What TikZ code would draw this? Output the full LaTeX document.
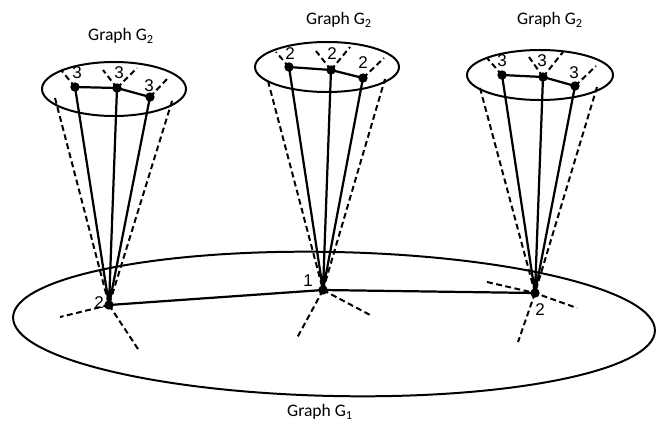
\documentclass[tikz,border=0pt]{standalone}
\usepackage{fontspec}
\setmainfont{Carlito}
\newfontfamily\numfont{Liberation Sans}
\begin{document}
\begin{tikzpicture}[x=0.03cm,y=-0.03cm,
  dot/.style={circle,fill=black,inner sep=0pt,minimum size=8pt},
  edge/.style={line width=1.9pt},
  hid/.style={line width=1.7pt,dash pattern=on 5pt off 3pt},
  ring/.style={line width=1.7pt},
  num/.style={font=\numfont\fontsize{14.5}{14.5}\selectfont,inner sep=0pt},
  title/.style={font=\fontsize{15}{15}\selectfont,inner sep=0pt}]
\useasboundingbox (0,0) rectangle (657,422);
% big ellipse G1
\draw[ring,rotate around={-1.2:(334,324)}] (334,324) ellipse [x radius=321, y radius=72];
% small ellipses
\draw[ring] (114,89) ellipse [x radius=72, y radius=27];
\draw[ring] (327,67) ellipse [x radius=72, y radius=25];
\draw[ring] (540,75) ellipse [x radius=73, y radius=25];
% bottom nodes
\node[dot] (B1) at (109,305) {};
\node[dot] (B2) at (323,290) {};
\node[dot] (B3) at (535,293) {};
% top nodes
\node[dot] (a1) at (75,87) {};
\node[dot] (a2) at (117,88) {};
\node[dot] (a3) at (150,97) {};
\node[dot] (b1) at (289,67) {};
\node[dot] (b2) at (331,70) {};
\node[dot] (b3) at (363,78) {};
\node[dot] (c1) at (502,75) {};
\node[dot] (c2) at (543,77) {};
\node[dot] (c3) at (575,86) {};
% free ends
\coordinate (l1) at (60,317);
\coordinate (l2) at (138,349);
\coordinate (m1) at (297,338);
\coordinate (m2) at (372,316);
\coordinate (r1) at (487,282);
\coordinate (r2) at (577,308);
\coordinate (r3) at (518,342);
\coordinate (cl1) at (55,98);
\coordinate (cl2) at (173,98);
\coordinate (cm1) at (268,81);
\coordinate (cm2) at (385,79);
\coordinate (cr1) at (480,88);
\coordinate (cr2) at (597,87);
\coordinate (ta1) at (61,70);
\coordinate (ta2) at (103,70);
\coordinate (ta3) at (137,68);
\coordinate (ta4) at (168,78);
\coordinate (tb1) at (276,52);
\coordinate (tb2) at (316,51);
\coordinate (tb3) at (350,47);
\coordinate (tb4) at (384,58);
\coordinate (tc1) at (487,58);
\coordinate (tc2) at (529,57);
\coordinate (tc3) at (563,52);
\coordinate (tc4) at (596,66);
% G1 edges
\draw[edge] (B1.center) -- (B2.center) -- (B3.center);
\draw[hid] (B1.center) -- (l1);
\draw[hid] (B1.center) -- (l2);
\draw[hid] (B2.center) -- (m1);
\draw[hid] (B2.center) -- (m2);
\draw[hid] (r1) -- (B3.center) -- (r2);
\draw[hid] (B3.center) -- (r3);
% cones
\draw[edge] (B1.center) -- (a1.center) (B1.center) -- (a2.center) (B1.center) -- (a3.center);
\draw[edge] (B2.center) -- (b1.center) (B2.center) -- (b2.center) (B2.center) -- (b3.center);
\draw[edge] (B3.center) -- (c1.center) (B3.center) -- (c2.center) (B3.center) -- (c3.center);
\draw[hid] (cl1) -- (B1.center) -- (cl2);
\draw[hid] (cm1) -- (B2.center) -- (cm2);
\draw[hid] (cr1) -- (B3.center) -- (cr2);
% G2 edges
\draw[edge] (a1.center) -- (a2.center) -- (a3.center);
\draw[edge] (b1.center) -- (b2.center) -- (b3.center);
\draw[edge] (c1.center) -- (c2.center) -- (c3.center);
\draw[hid] (a1.center) -- (ta1) (a2.center) -- (ta2) (a2.center) -- (ta3) (a3.center) -- (ta4);
\draw[hid] (b1.center) -- (tb1) (b2.center) -- (tb2) (b2.center) -- (tb3) (b3.center) -- (tb4);
\draw[hid] (c1.center) -- (tc1) (c2.center) -- (tc2) (c2.center) -- (tc3) (c3.center) -- (tc4);
% labels
\node[num] (la1) at (77,73) {3};
\node[num] (la2) at (119,73) {3};
\node[num] (la3) at (149,86) {3};
\node[num] (lb1) at (290,54) {2};
\node[num] (lb2) at (332,54) {2};
\node[num] (lb3) at (363,63) {2};
\node[num] (lc1) at (502,61) {3};
\node[num] (lc2) at (542,61) {3};
\node[num] (lc3) at (574,73) {3};
\node[num] (lB1) at (99,303) {2};
\node[num] (lB2) at (308,281) {1};
\node[num] (lB3) at (540,310) {2};
\node[title] (t1) at (121,36) {Graph G\textsubscript{2}};
\node[title] (t2) at (339,20) {Graph G\textsubscript{2}};
\node[title] (t3) at (550,20) {Graph G\textsubscript{2}};
\node[title] (t4) at (320,412) {Graph G\textsubscript{1}};
\end{tikzpicture}
\end{document}
